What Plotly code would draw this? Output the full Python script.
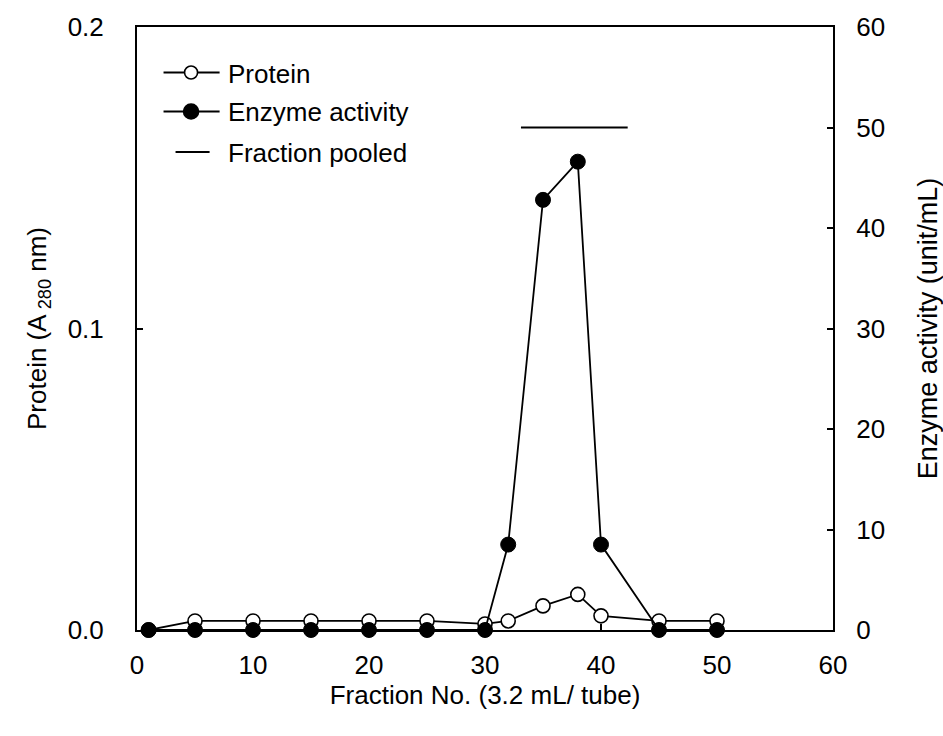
import plotly.graph_objects as go

# ---- data ----
fraction = [1, 5, 10, 15, 20, 25, 30, 32, 35, 38, 40, 45, 50]
protein = [0.0, 0.003, 0.003, 0.003, 0.003, 0.003, 0.002, 0.003, 0.008, 0.0118, 0.0047, 0.003, 0.003]
enzyme = [0, 0, 0, 0, 0, 0, 0, 8.5, 42.8, 46.6, 8.5, 0, 0]
pooled_x = [33.1, 42.3]
pooled_y = [50, 50]

x_ticks = [0, 10, 20, 30, 40, 50, 60]
left_ticks = [0.0, 0.1, 0.2]
left_ticktext = ["0.0", "0.1", "0.2"]
right_ticks = [0, 10, 20, 30, 40, 50, 60]

legend_labels = ["Protein", "Enzyme activity", "Fraction pooled"]

FONT = "Liberation Sans, Arial, sans-serif"
FS = 26

fig = go.Figure()

fig.add_trace(go.Scatter(
    x=fraction, y=protein, mode="lines+markers", name=legend_labels[0],
    line=dict(color="black", width=1.8),
    marker=dict(symbol="circle", size=14, color="white", line=dict(color="black", width=1.6)),
    cliponaxis=False, showlegend=False, yaxis="y"))

fig.add_trace(go.Scatter(
    x=fraction, y=enzyme, mode="lines+markers", name=legend_labels[1],
    line=dict(color="black", width=1.8),
    marker=dict(symbol="circle", size=15, color="black", line=dict(color="black", width=1)),
    cliponaxis=False, showlegend=False, yaxis="y2"))

fig.add_trace(go.Scatter(
    x=pooled_x, y=pooled_y, mode="lines", name=legend_labels[2],
    line=dict(color="black", width=2), showlegend=False, yaxis="y2"))

# ---- manual legend ----
L, R, T, B = 137.5, 832.7, 27.0, 630.0
def px(xp):
    return (xp - L) / (R - L)
def py(yp):
    return (B - yp) / (B - T)

shapes = []
annotations = []
rows = [(72.5, "open"), (111.5, "filled"), (152.0, "line")]
for (yc, kind), label in zip(rows, legend_labels):
    if kind in ("open", "filled"):
        shapes.append(dict(type="line", xref="paper", yref="paper",
                           x0=px(164), x1=px(220), y0=py(yc), y1=py(yc),
                           line=dict(color="black", width=1.8)))
        d = 13 if kind == "open" else 15
        shapes.append(dict(type="circle", xref="paper", yref="paper",
                           xsizemode="pixel", ysizemode="pixel",
                           xanchor=px(191.5), yanchor=py(yc),
                           x0=-d / 2, x1=d / 2, y0=-d / 2, y1=d / 2,
                           fillcolor="white" if kind == "open" else "black",
                           line=dict(color="black", width=1.6)))
    else:
        shapes.append(dict(type="line", xref="paper", yref="paper",
                           x0=px(176), x1=px(210), y0=py(yc), y1=py(yc),
                           line=dict(color="black", width=1.8)))
    annotations.append(dict(text=label, xref="paper", yref="paper",
                            x=px(226), y=py(yc + 1), xanchor="left", yanchor="middle",
                            showarrow=False, font=dict(family=FONT, size=FS, color="black")))

axis_common = dict(showline=True, linecolor="black", linewidth=2, ticks="inside",
                   ticklen=6, tickwidth=1.5, tickcolor="black", showgrid=False, zeroline=False,
                   automargin=False,
                   tickfont=dict(family=FONT, size=FS, color="black"))

fig.update_layout(
    width=943, height=736,
    margin=dict(l=137, r=110, t=27, b=106, pad=0),
    paper_bgcolor="white", plot_bgcolor="white",
    font=dict(family=FONT, size=FS, color="black"),
    xaxis=dict(range=[0, 60], tickvals=x_ticks, mirror=True,
               ticklabelstandoff=11,
               title=dict(text="Fraction No. (3.2 mL/ tube)", standoff=1,
                          font=dict(family=FONT, size=FS)),
               **axis_common),
    yaxis=dict(range=[0, 0.2], tickvals=left_ticks, ticktext=left_ticktext,
               ticklabelstandoff=26,
               title=dict(text="Protein (A<sub> 280</sub> nm)", standoff=14,
                          font=dict(family=FONT, size=FS)),
               **axis_common),
    yaxis2=dict(range=[0, 60], tickvals=right_ticks, overlaying="y", side="right",
                ticklabelstandoff=16,
                title=dict(text="Enzyme activity (unit/mL)", standoff=34,
                           font=dict(family=FONT, size=27)),
                **axis_common),
    shapes=shapes, annotations=annotations,
    showlegend=False,
)

fig.write_html("out.html")
